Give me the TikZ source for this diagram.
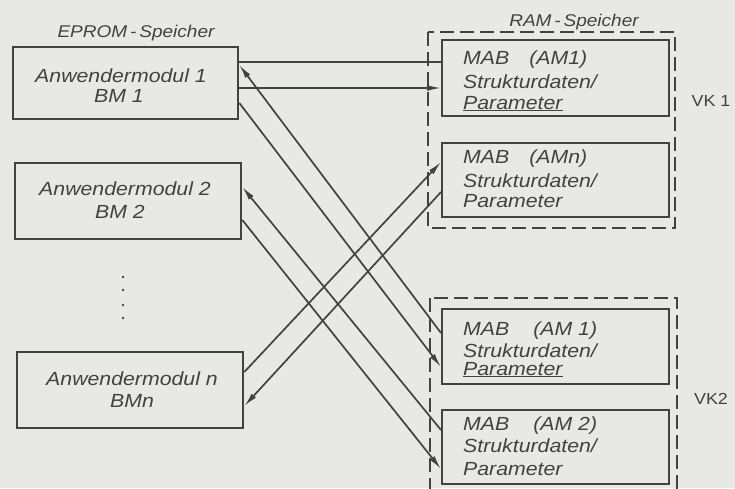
\documentclass[tikz,border=0pt]{standalone}
\usepackage{fontspec}
\setmainfont{Liberation Sans}[FakeStretch=1.12]
\usetikzlibrary{arrows.meta}
\definecolor{bg}{RGB}{232,232,228}
\definecolor{ink}{RGB}{66,66,66}
\begin{document}
\begin{tikzpicture}[x=1pt,y=-1pt,
  modbox/.style={draw=ink, line width=2.3pt, inner sep=0pt, anchor=north west, minimum width=#1},
  modbox/.default=226pt,
  grpbox/.style={draw=ink, line width=1.9pt, dash pattern=on 14pt off 6pt},
  ltxt/.style={anchor=base, inner sep=0pt, text=ink, font=\fontsize{19}{20}\selectfont\itshape},
  rtxt/.style={anchor=base west, inner sep=0pt, text=ink, font=\fontsize{19}{20}\selectfont\itshape},
  head/.style={anchor=base, inner sep=0pt, text=ink, font=\fontsize{17}{18}\selectfont\itshape},
  vk/.style={anchor=base, inner sep=0pt, text=ink, font=\fontsize{16}{18}\selectfont},
  conn/.style={draw=ink, line width=1.7pt},
  tip/.style={-{Latex[length=14pt,width=6pt]}}
]
\clip (0,0) rectangle (735,488);
\fill[bg] (0,0) rectangle (735,488);
\useasboundingbox (0,0) rectangle (735,488);

% group (dashed) boxes
\draw[grpbox] (428,32) rectangle (675,228);
\draw[grpbox] (430,298) rectangle (677,500);

% left boxes
\node[modbox=225pt, minimum height=72pt] (L1) at (12,46) {};
\node[modbox=226pt, minimum height=76pt] (L2) at (14,162) {};
\node[modbox=226pt, minimum height=76pt] (Ln) at (16,351) {};

% right boxes
\node[modbox=227pt, minimum height=76pt] (R1) at (441,39) {};
\node[modbox=227pt, minimum height=74pt] (R2) at (441,142) {};
\node[modbox=227pt, minimum height=75pt] (R3) at (441,308) {};
\node[modbox=227pt, minimum height=74pt] (R4) at (441,409) {};

% headings and labels
\node[head] (hE) at (136,37) {EPROM\,-\,Speicher};
\node[head] (hR) at (574,26) {RAM\,-\,Speicher};
\node[vk] (vk1) at (711,106) {VK 1};
\node[vk] (vk2) at (711,404) {VK2};

% left texts
\node[ltxt] (a1) at (121,82) {Anwendermodul 1};
\node[ltxt] (b1) at (119,102) {BM 1};
\node[ltxt] (a2) at (125,195) {Anwendermodul 2};
\node[ltxt] (b2) at (120,218) {BM 2};
\node[ltxt] (an) at (132,385) {Anwendermodul n};
\node[ltxt] (bn) at (132,407) {BMn};

% dots
\fill[ink] (123,277) circle (1.3pt) (123,290) circle (1.3pt) (123,305) circle (1.3pt) (123,318) circle (1.3pt);

% right texts
\node[rtxt] (m1) at (463,64) {MAB\hspace{20pt}(AM1)};
\node[rtxt] (s1) at (463,88) {Strukturdaten/};
\node[rtxt] (p1) at (463,109) {\underline{Parameter}};
\node[rtxt] (m2) at (463,163) {MAB\hspace{20pt}(AMn)};
\node[rtxt] (s2) at (463,187) {Strukturdaten/};
\node[rtxt] (p2) at (463,207) {Parameter};
\node[rtxt] (m3) at (463,335) {MAB\hspace{24pt}(AM 1)};
\node[rtxt] (s3) at (463,357) {Strukturdaten/};
\node[rtxt] (p3) at (463,375) {\underline{Parameter}};
\node[rtxt] (m4) at (463,430) {MAB\hspace{24pt}(AM 2)};
\node[rtxt] (s4) at (463,452) {Strukturdaten/};
\node[rtxt] (p4) at (463,475) {Parameter};

% connectors
\draw[conn] (L1.east |- 0,62) -- (R1.west |- 0,62);
\draw[conn,tip] (L1.east |- 0,88) -- (R1.west |- 0,88);
\draw[conn,tip] (R3.west |- 0,333) -- (L1.east |- 0,65);
\draw[conn,tip] (L1.east |- 0,103) -- (R3.west |- 0,367);
\draw[conn,tip] (R4.west |- 0,430) -- (L2.east |- 0,187);
\draw[conn,tip] (L2.east |- 0,220) -- (R4.west |- 0,469);
\draw[conn,tip] (Ln.east |- 0,372) -- (R2.west |- 0,162);
\draw[conn,tip] (R2.west |- 0,192) -- (Ln.east |- 0,406);
\end{tikzpicture}
\end{document}
